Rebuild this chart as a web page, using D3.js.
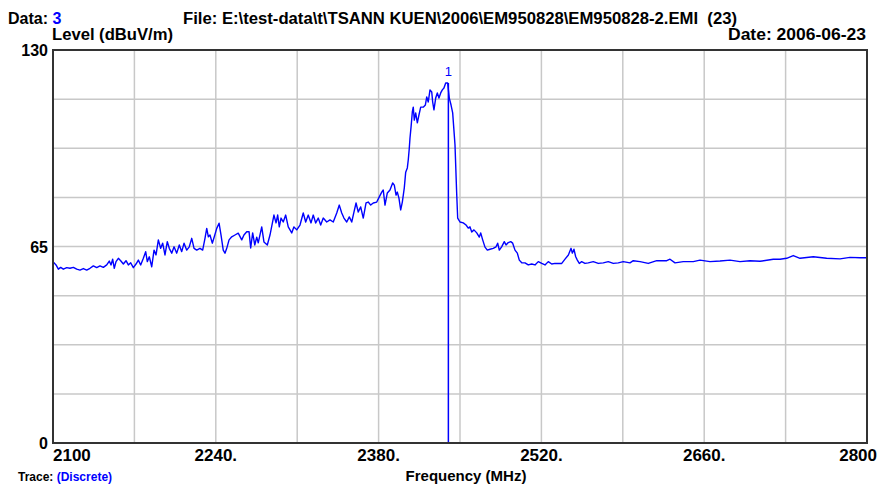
<!DOCTYPE html>
<html>
<head>
<meta charset="utf-8">
<script src="https://cdn.jsdelivr.net/npm/d3@7"></script>
<style>
  body { margin: 0; background: #fff; }
  text { font-family: Arial, "Liberation Sans", sans-serif; font-weight: bold; }
</style>
</head>
<body>
<div id="chart"></div>
<script>
// trace: frequency (MHz) and level (dBuV/m)
const freq = [
  2100, 2102.6, 2104.6, 2106.6, 2108.9, 2111.8, 2114.6, 2117.5, 2120.4, 2123.2,
  2126.1, 2129.0, 2131.8, 2134.7, 2137.6, 2140.4, 2143.3, 2146.2, 2148.4, 2149.9,
  2151.3, 2152.7, 2154.2, 2156.2, 2158.2, 2160.5, 2162.8, 2164.8, 2166.8, 2169.1,
  2171.4, 2173.4, 2175.4, 2177.7, 2179.7, 2181.1, 2182.8, 2184.9, 2186.9, 2188.6,
  2190.6, 2192.6, 2194.3, 2196.3, 2198.3, 2200.0, 2202.1, 2204.1, 2206.4, 2208.6,
  2210.7, 2212.7, 2215.0, 2217.2, 2219.3, 2221.3, 2223.6, 2226.4, 2228.7, 2230.7,
  2232.2, 2233.6, 2235.0, 2237.0, 2238.7, 2240.8, 2242.8, 2244.5, 2246.4, 2247.9,
  2249.4, 2251.4, 2253.7, 2256.5, 2259.3, 2262.3, 2264.2, 2266.6, 2268.6, 2270.0,
  2271.7, 2273.5, 2275.2, 2276.5, 2279.5, 2281.4, 2284.3, 2286.6, 2290.0, 2291.8,
  2293.2, 2294.6, 2296.1, 2298.0, 2300.1, 2302.3, 2305.3, 2307.2, 2309.6, 2312.4,
  2315.2, 2317.3, 2319.5, 2321.9, 2323.8, 2325.9, 2328.1, 2330.2, 2332.4, 2335.4,
  2338.2, 2341.0, 2344.0, 2346.2, 2348.3, 2350.2, 2352.6, 2354.8, 2356.9, 2358.8,
  2360.6, 2362.5, 2364.6, 2366.8, 2369.2, 2371.1, 2373.2, 2375.4, 2378.4, 2380.6,
  2382.7, 2384.0, 2385.5, 2387.5, 2389.8, 2392.1, 2393.5, 2395.0, 2396.1, 2397.5,
  2399.0, 2400.4, 2402.1, 2403.3, 2404.7, 2405.5, 2406.4, 2407.0, 2407.9, 2409.0,
  2409.8, 2410.7, 2411.9, 2413.3, 2414.7, 2416.2, 2418.4, 2420.2, 2421.4, 2422.7,
  2424.2, 2425.7, 2426.5, 2427.6, 2429.1, 2430.5, 2431.9, 2433.4, 2434.8, 2436.2,
  2437.7, 2439.4, 2440.8, 2442.3, 2443.7, 2445.7, 2447.1, 2448.0, 2450.0, 2452.8,
  2455.2, 2457.1, 2458.6, 2460.1, 2462.0, 2464.4, 2466.6, 2467.8, 2469.5, 2471.5,
  2473.5, 2475.8, 2478.6, 2481.0, 2482.4, 2483.8, 2485.8, 2488.1, 2489.6, 2491.5,
  2493.6, 2495.3, 2497.3, 2499.3, 2501.0, 2503.1, 2505.9, 2508.7, 2511.7, 2514.5,
  2517.3, 2520.3, 2523.1, 2525.9, 2528.9, 2531.7, 2534.6, 2537.5, 2540.3, 2543.2,
  2545.5, 2546.6, 2548.0, 2549.5, 2550.9, 2552.6, 2554.6, 2557.5, 2560.3, 2564.6,
  2568.9, 2573.2, 2577.5, 2581.8, 2586.1, 2590.4, 2596.2, 2599.0, 2604.8, 2611.9,
  2619.2, 2627.8, 2630.6, 2634.9, 2642.0, 2650.6, 2656.4, 2665.0, 2673.6, 2682.2,
  2690.8, 2699.4, 2708.0, 2719.4, 2725.2, 2730.9, 2736.6, 2742.4, 2753.8, 2765.3,
  2776.8, 2785.4, 2794.0, 2800
];
const level = [
  60.0, 58.9, 57.5, 58.1, 57.5, 58.0, 57.8, 58.1, 57.5, 57.2,
  57.7, 57.2, 57.8, 58.6, 58.0, 58.6, 58.1, 58.9, 60.2, 58.9,
  60.8, 57.8, 60.0, 61.1, 60.3, 59.2, 60.3, 58.9, 59.6, 58.0,
  59.2, 60.5, 58.9, 61.1, 63.3, 60.0, 61.6, 58.3, 63.8, 62.2,
  67.2, 64.4, 66.1, 62.2, 66.6, 64.4, 62.8, 64.9, 62.8, 65.5,
  63.3, 66.1, 63.8, 64.9, 67.7, 64.4, 63.8, 64.4, 63.8, 67.7,
  71.0, 68.2, 68.8, 66.1, 68.2, 71.0, 72.7, 68.8, 63.8, 62.8,
  64.4, 67.2, 68.2, 68.8, 69.4, 67.2, 68.8, 69.9, 69.9, 64.5,
  69.5, 65.5, 68.1, 66.2, 71.5, 66.5, 65.5, 68.8, 75.4, 72.8,
  75.4, 71.5, 74.4, 73.1, 75.4, 71.5, 69.5, 71.5, 70.5, 72.1,
  76.1, 73.1, 75.4, 72.8, 75.4, 72.8, 74.4, 72.1, 74.4, 73.1,
  73.8, 73.1, 76.1, 78.7, 76.1, 74.4, 73.1, 74.8, 73.1, 76.4,
  79.4, 76.4, 78.1, 74.4, 79.4, 79.7, 78.7, 79.4, 79.7, 81.4,
  83.0, 83.7, 78.7, 82.7, 83.7, 86.0, 85.3, 82.0, 83.0, 81.0,
  77.1, 79.7, 84.4, 89.6, 91.0, 93.6, 97.6, 100.9, 104.5, 109.5,
  111.1, 106.8, 109.2, 105.9, 108.5, 111.1, 111.1, 111.8, 114.5, 112.8,
  116.8, 116.1, 112.8, 110.2, 114.1, 115.8, 114.1, 115.8, 116.8, 117.4,
  119.1, 119.1, 114.1, 111.8, 109.2, 98.6, 83.0, 74.4, 73.1, 72.8,
  72.1, 71.1, 71.5, 69.8, 70.5, 69.5, 68.1, 69.5, 67.2, 64.8,
  63.8, 64.1, 64.4, 64.9, 66.1, 63.8, 64.9, 66.6, 65.5, 66.3,
  66.6, 66.1, 63.8, 62.8, 60.5, 59.6, 59.6, 58.9, 59.2, 58.9,
  60.0, 59.4, 58.9, 60.0, 59.2, 59.4, 59.4, 59.4, 60.8, 62.2,
  64.4, 62.8, 64.1, 61.6, 60.5, 59.4, 60.0, 59.4, 59.6, 60.0,
  59.4, 59.6, 60.0, 59.4, 59.6, 60.0, 59.6, 60.3, 60.0, 59.4,
  60.3, 60.3, 60.8, 59.6, 60.0, 60.0, 60.5, 60.0, 60.2, 60.5,
  60.0, 60.3, 60.1, 60.8, 60.8, 61.1, 62.0, 61.1, 61.6, 61.1,
  60.9, 61.4, 61.3, 61.3
];

const markerFreq = 2440;
const markerLevel = 119.1;

const xTicks = [2100, 2240, 2380, 2520, 2660, 2800];
const xTickLabels = ["2100", "2240.", "2380.", "2520.", "2660.", "2800"];
const xGrid = [2170, 2240, 2310, 2380, 2450, 2520, 2590, 2660, 2730];
const yTicks = [0, 65, 130];
const yGrid = [16.25, 32.5, 48.75, 65, 81.25, 97.5, 113.75];

const W = 879, H = 484;
const svg = d3.select("#chart").append("svg")
    .attr("width", W)
    .attr("height", H);

const x = d3.scaleLinear().domain([2100, 2800]).range([53, 867]);
const y = d3.scaleLinear().domain([0, 130]).range([443, 50]);

// grid
svg.selectAll(".vg").data(xGrid).enter().append("line")
    .attr("x1", d => x(d)).attr("x2", d => x(d))
    .attr("y1", y(130)).attr("y2", y(0))
    .attr("stroke", "#c8c8c8").attr("stroke-width", 1.5);
svg.selectAll(".hg").data(yGrid).enter().append("line")
    .attr("x1", x(2100)).attr("x2", x(2800))
    .attr("y1", d => y(d)).attr("y2", d => y(d))
    .attr("stroke", "#c8c8c8").attr("stroke-width", 1.5);

// trace
const pts = freq.map((f, i) => [f, level[i]]);
const line = d3.line().x(d => x(d[0])).y(d => y(d[1]));
svg.append("path")
    .attr("d", line(pts))
    .attr("fill", "none")
    .attr("stroke", "#0000ff")
    .attr("stroke-width", 1.4)
    .attr("stroke-linejoin", "round");

// marker
svg.append("line")
    .attr("x1", x(markerFreq)).attr("x2", x(markerFreq))
    .attr("y1", y(0)).attr("y2", y(markerLevel))
    .attr("stroke", "#0000ff").attr("stroke-width", 1.5);
svg.append("text")
    .attr("x", x(markerFreq)).attr("y", y(markerLevel) - 7)
    .attr("text-anchor", "middle")
    .attr("fill", "#0000ff")
    .style("font-weight", "normal")
    .style("font-size", "13px")
    .text("1");

// frame
svg.append("rect")
    .attr("x", x(2100)).attr("y", y(130))
    .attr("width", x(2800) - x(2100)).attr("height", y(0) - y(130))
    .attr("fill", "none").attr("stroke", "#333").attr("stroke-width", 2);

// tick labels
svg.selectAll(".xl").data(xTicks).enter().append("text")
    .attr("x", (d, i) => i === xTicks.length - 1 ? x(d) + 10 : x(d))
    .attr("y", 461)
    .attr("text-anchor", (d, i) => i === 0 ? "start" : (i === xTicks.length - 1 ? "end" : "middle"))
    .style("font-size", "17px")
    .text((d, i) => xTickLabels[i]);
svg.selectAll(".yl").data(yTicks).enter().append("text")
    .attr("x", 48)
    .attr("y", d => y(d) + 6)
    .attr("text-anchor", "end")
    .style("font-size", "16px")
    .text(d => d);

// header
const h1 = svg.append("text").attr("x", 8).attr("y", 24).style("font-size", "16px");
h1.append("tspan").text("Data: ");
h1.append("tspan").attr("fill", "#0000ff").text("3");
svg.append("text").attr("x", 183).attr("y", 24).style("font-size", "16px")
    .attr("xml:space", "preserve")
    .attr("textLength", 554).attr("lengthAdjust", "spacingAndGlyphs")
    .text("File: E:\\test-data\\t\\TSANN KUEN\\2006\\EM950828\\EM950828-2.EMI  (23)");
svg.append("text").attr("x", 52).attr("y", 40).style("font-size", "16px")
    .attr("textLength", 121).attr("lengthAdjust", "spacingAndGlyphs")
    .text("Level (dBuV/m)");
svg.append("text").attr("x", 728).attr("y", 40)
    .style("font-size", "16px")
    .attr("textLength", 138).attr("lengthAdjust", "spacingAndGlyphs")
    .text("Date: 2006-06-23");

// axis title
svg.append("text").attr("x", 466).attr("y", 481).attr("text-anchor", "middle")
    .style("font-size", "15px")
    .text("Frequency (MHz)");

const tr = svg.append("text").attr("x", 18).attr("y", 481).style("font-size", "12px");
tr.append("tspan").text("Trace: ");
tr.append("tspan").attr("fill", "#0000ff").text("(Discrete)");
</script>
</body>
</html>
